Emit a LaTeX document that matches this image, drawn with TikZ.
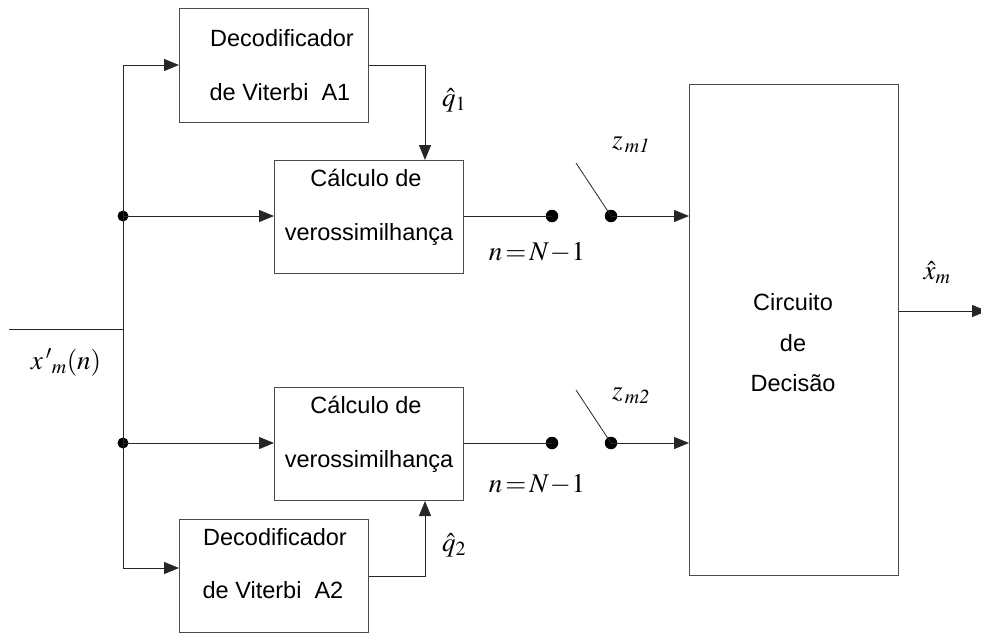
\documentclass[tikz,border=0pt]{standalone}
\usepackage{mathptmx}
\usepackage[no-math]{fontspec}
\setmainfont{Liberation Sans}
\usetikzlibrary{arrows.meta}
\begin{document}
\begin{tikzpicture}[x=1pt,y=-1pt,
  box/.style={draw=black!70, line width=1pt, inner sep=0pt, anchor=north west},
  txt/.style={font=\fontsize{23.5}{28}\selectfont, inner sep=0pt, anchor=base},
  lbl/.style={font=\fontsize{27}{30}\selectfont, inner sep=0pt},
  wire/.style={draw=black!85, line width=1pt},
  arr/.style={wire, -{Triangle[length=15pt,width=12pt]}},
  dot/.style={circle, fill=black, inner sep=0pt, minimum size=12.5pt},
  jdot/.style={circle, fill=black, inner sep=0pt, minimum size=11pt}]
\useasboundingbox (0,0) rectangle (981,633);

% boxes
\node[box, minimum width=189pt, minimum height=114pt] (D1) at (179,8) {};
\node[box, minimum width=189pt, minimum height=113pt] (C1) at (274,160) {};
\node[box, minimum width=189pt, minimum height=113pt] (C2) at (274,387) {};
\node[box, minimum width=189pt, minimum height=113pt] (D2) at (179,519) {};
\node[box, minimum width=209pt, minimum height=491pt] (Dec) at (689,84) {};

% box texts
\node[txt] (d1a) at (282,46.5) {Decodificador};
\node[txt] (d1b) at (280,100) {de Viterbi\ \ A1};
\node[txt] (c1a) at (366,186) {Cálculo de};
\node[txt] (c1b) at (369,240) {verossimilhança};
\node[txt] (c2a) at (366,413) {Cálculo de};
\node[txt] (c2b) at (369,467) {verossimilhança};
\node[txt] (d2a) at (275,545) {Decodificador};
\node[txt] (d2b) at (273,598) {de Viterbi\ \ A2};
\node[txt] (k1) at (793,310) {Circuito};
\node[txt] (k2) at (793,351) {de};
\node[txt] (k3) at (793,391) {Decisão};

% coordinates
\coordinate (in) at (9,329);
\coordinate (bus) at (123,329);
\coordinate (t) at (123,65);
\coordinate (b) at (123,568);
\node[jdot] (j1) at (123,216) {};
\node[jdot] (j2) at (123,443) {};
\coordinate (qx) at (425,0);
\node[dot] (a1) at (552,216) {};
\node[dot] (s1) at (611,216) {};
\coordinate (l1) at (576,163);
\node[dot] (a2) at (552,443) {};
\node[dot] (s2) at (611,443) {};
\coordinate (l2) at (576,390);
\coordinate (out) at (987,311);

% wires
\draw[wire] (in) -- (bus);
\draw[wire] (t) -- (b);
\draw[arr] (t) -- (D1.west |- t);
\draw[arr] (b) -- (D2.west |- b);
\draw[arr] (j1.center) -- (C1.west |- j1);
\draw[arr] (j2.center) -- (C2.west |- j2);
\draw[arr] (D1.east) -| (C1.north -| qx);
\draw[arr] (D2.east) -| (C2.south -| qx);
\draw[wire] (C1.east |- a1) -- (a1.center);
\draw[wire] (C2.east |- a2) -- (a2.center);
\draw[wire, line width=0.8pt] (s1.center) -- (l1);
\draw[wire, line width=0.8pt] (s2.center) -- (l2);
\draw[arr] (s1.center) -- (Dec.west |- s1);
\draw[arr] (s2.center) -- (Dec.west |- s2);
\draw[arr] (Dec.east |- out) -- (out);

% labels
\node[lbl] (q1) at (454,100) {$\hat{q}_1$};
\node[lbl] (q2) at (454,545) {$\hat{q}_2$};
\node[lbl] (n1) at (537,253) {$n\!=\!N\!-\!1$};
\node[lbl] (n2) at (537,485) {$n\!=\!N\!-\!1$};
\node[lbl] (z1) at (631,145) {$z_{\,m\mathit{1}}$};
\node[lbl] (z2) at (631,396) {$z_{\,m\mathit{2}}$};
\node[lbl] (xh) at (937,273) {$\hat{x}_m$};
\node[lbl] (xi) at (66,362) {$x\,'{}_{m}(n)$};
\end{tikzpicture}
\end{document}
